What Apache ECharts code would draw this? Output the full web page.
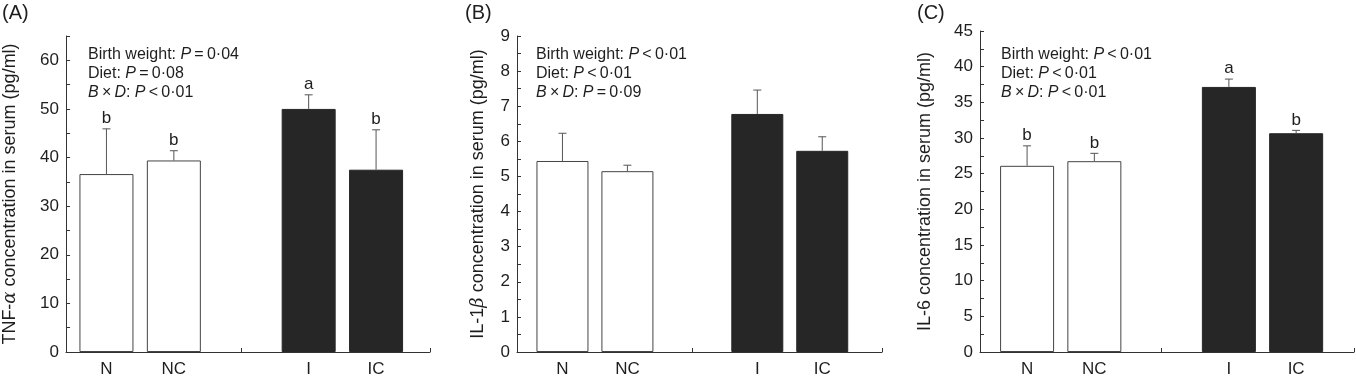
<!DOCTYPE html>
<html>
<head>
<meta charset="utf-8">
<script src="https://cdn.jsdelivr.net/npm/echarts@6/dist/echarts.min.js"></script>
<style type="text/css">
  html, body { margin: 0; padding: 0; background: #fff; }
  #chart { width: 1356px; height: 380px; }
</style>
</head>
<body>
<div id="chart"></div>
<script>
// groups on the x axis (gap between N/NC and I/IC)
var groups = ['N', 'NC', 'I', 'IC'];

// TNF-alpha (A)
var tnfMean = [36.6, 39.4, 50.0, 37.5];
var tnfSe = [9.3, 2.0, 2.9, 8.2];
var tnfLetters = ['b', 'b', 'a', 'b'];
var tnfTicks = [0, 10, 20, 30, 40, 50, 60];

// IL-1beta (B)
var il1Mean = [5.44, 5.15, 6.78, 5.73];
var il1Se = [0.79, 0.17, 0.68, 0.40];
var il1Letters = ['', '', '', ''];
var il1Ticks = [0, 1, 2, 3, 4, 5, 6, 7, 8, 9];

// IL-6 (C)
var il6Mean = [26.1, 26.75, 37.16, 30.67];
var il6Se = [2.8, 1.1, 1.1, 0.4];
var il6Letters = ['b', 'b', 'a', 'b'];
var il6Ticks = [0, 5, 10, 15, 20, 25, 30, 35, 40, 45];

var font = '"Liberation Sans", Arial, Helvetica, sans-serif';
var ink = '#1e1e1e';

// position of a group on the value x axis (slot 3 is the gap)
function groupPos(i) {
    return i < 2 ? i + 1 : i + 2;
}

var chart = echarts.init(document.getElementById('chart'));

var option = {
    animation: false,
    backgroundColor: '#fff',
    grid: [],
    xAxis: [],
    yAxis: [],
    series: [],
    title: []
};

function addPanel(k, cfg) {
    option.grid.push({
        left: cfg.left, top: cfg.top, width: cfg.width, bottom: cfg.bottom
    });
    option.xAxis.push({
        gridIndex: k,
        type: 'value',
        min: cfg.xmin,
        max: cfg.xmax,
        splitLine: {show: false},
        axisLine: {lineStyle: {color: '#333', width: 1}},
        axisTick: {
            inside: true, length: 4,
            customValues: [3, cfg.xmax],
            lineStyle: {color: '#333'}
        },
        axisLabel: {
            customValues: [1, 2, 4, 5],
            margin: 9,
            fontSize: 17,
            fontFamily: font,
            color: ink,
            formatter: function (v) {
                for (var i = 0; i < groups.length; i++) {
                    if (Math.abs(groupPos(i) - v) < 0.01) return groups[i];
                }
                return '';
            }
        }
    });
    option.yAxis.push({
        gridIndex: k,
        type: 'value',
        min: 0,
        max: cfg.ymax,
        interval: cfg.step,
        splitLine: {show: false},
        axisLine: {show: true, lineStyle: {color: '#333', width: 1}},
        axisTick: {show: true, inside: true, length: 4, lineStyle: {color: '#333'}},
        axisLabel: {
            margin: 7,
            fontSize: 17,
            fontFamily: font,
            color: ink,
            formatter: function (v) {
                return cfg.ticks.indexOf(v) >= 0 ? String(v) : '';
            }
        },
        name: cfg.name,
        nameLocation: 'middle',
        nameGap: cfg.nameGap,
        nameTextStyle: {
            fontSize: 18,
            fontFamily: font,
            color: ink,
            rich: {
                g: {fontSize: 18, fontFamily: '"DejaVu Serif", serif', fontStyle: 'italic', color: ink}
            }
        }
    });

    var barData = [];
    var errData = [];
    for (var i = 0; i < groups.length; i++) {
        barData.push({
            value: [groupPos(i), cfg.mean[i]],
            itemStyle: i < 2
                ? {color: '#fff', borderColor: '#444', borderWidth: 1}
                : {color: '#262626', borderColor: '#262626', borderWidth: 1}
        });
        errData.push([groupPos(i), cfg.mean[i], cfg.se[i], i]);
    }

    option.series.push({
        type: 'bar',
        xAxisIndex: k,
        yAxisIndex: k,
        barWidth: cfg.barWidth,
        data: barData,
        z: 2
    });

    var letters = cfg.letters;
    option.series.push({
        type: 'custom',
        xAxisIndex: k,
        yAxisIndex: k,
        clip: false,
        z: 3,
        encode: {x: 0, y: 1},
        data: errData,
        renderItem: function (params, api) {
            var x = api.value(0), m = api.value(1), e = api.value(2), idx = api.value(3);
            var p0 = api.coord([x, m]);
            var p1 = api.coord([x, m + e]);
            var children = [
                {type: 'line', shape: {x1: p0[0], y1: p0[1], x2: p1[0], y2: p1[1]},
                 style: {stroke: '#555', lineWidth: 1}},
                {type: 'line', shape: {x1: p1[0] - 4, y1: p1[1], x2: p1[0] + 4, y2: p1[1]},
                 style: {stroke: '#555', lineWidth: 1}}
            ];
            if (letters[idx]) {
                children.push({
                    type: 'text',
                    style: {
                        text: letters[idx], x: p1[0], y: p1[1] - 2,
                        align: 'center', verticalAlign: 'bottom',
                        fontSize: 17, fontFamily: font, fill: ink
                    }
                });
            }
            return {type: 'group', children: children};
        }
    });

    // panel letter
    option.title.push({
        text: cfg.panel,
        left: cfg.panelLeft, top: 3, padding: 0,
        textStyle: {fontSize: 20, fontWeight: 'normal', fontFamily: font, color: ink}
    });
    // statistics note
    option.title.push({
        text: cfg.note.join('\n'),
        left: cfg.noteLeft, top: 45, padding: 0,
        textStyle: {
            fontSize: 16, fontWeight: 'normal', fontFamily: font, color: ink, lineHeight: 19,
            rich: {
                i: {fontSize: 16, fontStyle: 'italic', fontFamily: font, color: ink, lineHeight: 19}
            }
        }
    });
}

addPanel(0, {
    left: 65, top: 36, width: 365, bottom: 28,
    xmin: 0.4, xmax: 5.8, ymax: 65, step: 5, ticks: tnfTicks,
    mean: tnfMean, se: tnfSe, letters: tnfLetters, barWidth: 54,
    name: 'TNF-{g|α} concentration in serum (pg/ml)', nameGap: 47,
    panel: '(A)', panelLeft: 2,
    note: ['Birth weight: {i|P}\u2009=\u20090·04', 'Diet: {i|P}\u2009=\u20090·08', '{i|B}\u2009×\u2009{i|D}: {i|P}\u2009<\u20090·01'],
    noteLeft: 88
});

addPanel(1, {
    left: 517, top: 36, width: 365, bottom: 28,
    xmin: 0.3, xmax: 5.92, ymax: 9, step: 0.5, ticks: il1Ticks,
    mean: il1Mean, se: il1Se, letters: il1Letters, barWidth: 52,
    name: 'IL-1{g|β} concentration in serum (pg/ml)', nameGap: 30,
    panel: '(B)', panelLeft: 465,
    note: ['Birth weight: {i|P}\u2009<\u20090·01', 'Diet: {i|P}\u2009<\u20090·01', '{i|B}\u2009×\u2009{i|D}: {i|P}\u2009=\u20090·09'],
    noteLeft: 536
});

addPanel(2, {
    left: 980, top: 31, width: 374, bottom: 28,
    xmin: 0.3, xmax: 5.86, ymax: 45, step: 2.5, ticks: il6Ticks,
    mean: il6Mean, se: il6Se, letters: il6Letters, barWidth: 54,
    name: 'IL-6 concentration in serum (pg/ml)', nameGap: 46,
    panel: '(C)', panelLeft: 917,
    note: ['Birth weight: {i|P}\u2009<\u20090·01', 'Diet: {i|P}\u2009<\u20090·01', '{i|B}\u2009×\u2009{i|D}: {i|P}\u2009<\u20090·01'],
    noteLeft: 1001
});

chart.setOption(option);
</script>
</body>
</html>
